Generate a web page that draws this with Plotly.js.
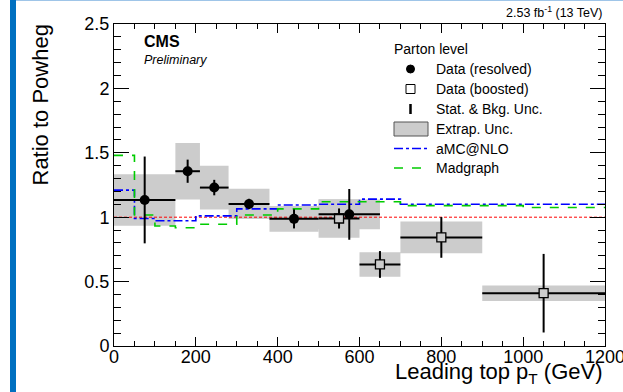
<!DOCTYPE html>
<html><head><meta charset="utf-8">
<script src="https://cdn.plot.ly/plotly-3.0.1.min.js"></script>
<style>
html,body{margin:0;padding:0;background:#fff;}
#wrap{position:relative;width:623px;height:392px;overflow:hidden;background:#fff;}
#chart{position:absolute;left:0;top:0;width:623px;height:392px;}
#bar{position:absolute;left:10px;top:0;width:6px;height:392px;background:#0070c0;z-index:5;}
#topline{position:absolute;left:16px;top:0;width:607px;height:1px;background:#9fc5e8;z-index:5;}
</style></head>
<body><div id="wrap"><div id="chart"></div><div id="bar"></div><div id="topline"></div></div>
<script>
// ---- data ----
const resolvedLo = [0, 150, 210, 280, 380, 500];
const resolvedHi = [150, 210, 280, 380, 500, 650];
const resolvedVal = [1.134, 1.357, 1.23, 1.103, 0.987, 1.022];
const resolvedStat = [0.337, 0.09, 0.06, 0.04, 0.074, 0.197];
const resolvedExtrap = [0.2, 0.22, 0.17, 0.117, 0.1, 0.115];

const boostedLo = [500, 600, 700, 900];
const boostedHi = [600, 700, 900, 1200];
const boostedVal = [0.99, 0.633, 0.843, 0.41];
const boostedStat = [0.078, 0.104, 0.158, 0.305];
const boostedExtrap = [0.15, 0.095, 0.123, 0.06];

const mcEdges = [0, 50, 100, 150, 200, 300, 400, 500, 600, 700, 800, 1000, 1200];
const amcnlo = [1.21, 0.99, 0.973, 0.973, 1.01, 1.065, 1.095, 1.10, 1.14, 1.10, 1.10, 1.10];
const madgraph = [1.48, 1.017, 0.932, 0.918, 0.945, 1.017, 1.065, 1.12, 1.12, 1.09, 1.09, 1.075];

const refX = [0, 1200];
const refY = [1, 1];

const legendTitle = 'Parton level';
const legendLabels = ['Data (resolved)', 'Data (boosted)', 'Stat. & Bkg. Unc.', 'Extrap. Unc.', 'aMC@NLO', 'Madgraph'];

// ---- helpers ----
const FONT = 'Liberation Sans, Arial, Helvetica, sans-serif';
const M = {l: 114, r: 18, t: 24, b: 46};
const W = 623, H = 392;
const PW = W - M.l - M.r, PH = H - M.t - M.b;
const px = p => (p - M.l) / PW;      // pixel x -> paper
const py = p => (H - M.b - p) / PH;  // pixel y -> paper

function centers(lo, hi) { return lo.map((l, i) => (l + hi[i]) / 2); }
function halfw(lo, hi) { return lo.map((l, i) => (hi[i] - l) / 2); }
function boxes(lo, hi, val, unc) {
  const x = [], y = [];
  lo.forEach((l, i) => {
    const h = hi[i], a = val[i] - unc[i], b = val[i] + unc[i];
    x.push(l, h, h, l, l, null);
    y.push(a, a, b, b, a, null);
  });
  return {x, y};
}
function steps(edges, vals) {
  return {x: edges.slice(), y: vals.concat([vals[vals.length - 1]])};
}

const boxR = boxes(resolvedLo, resolvedHi, resolvedVal, resolvedExtrap);
const boxB = boxes(boostedLo, boostedHi, boostedVal, boostedExtrap);
const stA = steps(mcEdges, amcnlo);
const stM = steps(mcEdges, madgraph);

const GRAY = '#cccccc';
const BLUE = '#0000ff';
const GREEN = '#00cc00';
const traces = [
  {x: boxB.x, y: boxB.y, mode: 'lines', fill: 'toself', fillcolor: GRAY,
   line: {width: 0, color: GRAY}, hoverinfo: 'skip', name: legendLabels[3]},
  {x: boxR.x, y: boxR.y, mode: 'lines', fill: 'toself', fillcolor: GRAY,
   line: {width: 0, color: GRAY}, hoverinfo: 'skip', name: legendLabels[3]},
  {x: refX, y: refY, mode: 'lines', line: {color: '#ff0000', width: 1, dash: '3px,2px'},
   hoverinfo: 'skip', name: 'Powheg'},
  {x: stA.x, y: stA.y, mode: 'lines', line: {shape: 'hv', color: BLUE, width: 1.6, dash: 'dashdot'},
   name: legendLabels[4]},
  {x: stM.x, y: stM.y, mode: 'lines', line: {shape: 'hv', color: GREEN, width: 1.6, dash: 'dash'},
   name: legendLabels[5]},
  {x: centers(boostedLo, boostedHi), y: boostedVal, mode: 'markers', name: legendLabels[1],
   marker: {symbol: 'square', size: 9, color: GRAY, line: {color: '#000', width: 1.3}},
   error_y: {type: 'data', array: boostedStat, color: '#000', thickness: 2, width: 0},
   error_x: {type: 'data', array: halfw(boostedLo, boostedHi), color: '#000', thickness: 2, width: 0}},
  {x: centers(resolvedLo, resolvedHi), y: resolvedVal, mode: 'markers', name: legendLabels[0],
   marker: {symbol: 'circle', size: 10, color: '#000'},
   error_y: {type: 'data', array: resolvedStat, color: '#000', thickness: 2, width: 0},
   error_x: {type: 'data', array: halfw(resolvedLo, resolvedHi), color: '#000', thickness: 2, width: 0}}
];

// ---- legend drawn as shapes + annotations ----
const legRows = [69, 89, 109, 129, 148.5, 168];
const symX = 410.5, txtX = 434;
const shapes = [
  {type: 'circle', xref: 'paper', yref: 'paper', x0: px(symX - 4), x1: px(symX + 4), y0: py(legRows[0] + 4), y1: py(legRows[0] - 4),
   fillcolor: '#000', line: {color: '#000', width: 1}},
  {type: 'rect', xref: 'paper', yref: 'paper', x0: px(symX - 4.5), x1: px(symX + 4.5), y0: py(legRows[1] + 4.5), y1: py(legRows[1] - 4.5),
   fillcolor: '#fff', line: {color: '#000', width: 1}},
  {type: 'line', xref: 'paper', yref: 'paper', x0: px(symX), x1: px(symX), y0: py(legRows[2] + 5), y1: py(legRows[2] - 5),
   line: {color: '#000', width: 2.5}},
  {type: 'rect', xref: 'paper', yref: 'paper', x0: px(394), x1: px(428), y0: py(legRows[3] + 7), y1: py(legRows[3] - 7),
   fillcolor: GRAY, line: {color: '#555', width: 1}},
  {type: 'line', xref: 'paper', yref: 'paper', x0: px(394), x1: px(427), y0: py(legRows[4]), y1: py(legRows[4]),
   line: {color: BLUE, width: 1.6, dash: 'dashdot'}},
  {type: 'line', xref: 'paper', yref: 'paper', x0: px(394), x1: px(427), y0: py(legRows[5]), y1: py(legRows[5]),
   line: {color: GREEN, width: 1.6, dash: 'dash'}}
];

const annotations = [
  {text: legendTitle, xref: 'paper', yref: 'paper', x: px(392), y: py(49), xanchor: 'left', yanchor: 'middle',
   showarrow: false, font: {family: FONT, size: 14}},
  ...legendLabels.map((t, i) => ({text: t, xref: 'paper', yref: 'paper', x: px(txtX), y: py(legRows[i]),
   xanchor: 'left', yanchor: 'middle', showarrow: false, font: {family: FONT, size: 14}})),
  {text: '<b>CMS</b>', xref: 'paper', yref: 'paper', x: px(142), y: py(41), xanchor: 'left', yanchor: 'middle',
   showarrow: false, font: {family: FONT, size: 16}},
  {text: '<i>Preliminary</i>', xref: 'paper', yref: 'paper', x: px(142), y: py(60), xanchor: 'left', yanchor: 'middle',
   showarrow: false, font: {family: FONT, size: 12.5}},
  {text: '2.53 fb<sup>-1</sup> (13 TeV)', xref: 'paper', yref: 'paper', x: 1.0, y: py(22), xanchor: 'right', yanchor: 'bottom',
   showarrow: false, font: {family: FONT, size: 12.5}},
  {text: 'Ratio to Powheg', xref: 'paper', yref: 'paper', x: px(40), y: py(23), xanchor: 'center', yanchor: 'top',
   textangle: -90, showarrow: false, font: {family: FONT, size: 22}},
  {text: 'Leading top p<sub>T</sub> (GeV)', xref: 'paper', yref: 'paper', x: 1.0, y: py(373), xanchor: 'right', yanchor: 'middle',
   showarrow: false, font: {family: FONT, size: 22}}
];

const layout = {
  width: W, height: H,
  margin: {l: M.l, r: M.r, t: M.t, b: M.b, pad: 0},
  paper_bgcolor: 'rgba(0,0,0,0)', plot_bgcolor: '#fff',
  font: {family: FONT, color: '#000'},
  showlegend: false,
  xaxis: {range: [0, 1200], showgrid: false, zeroline: false, showline: true, linecolor: '#000', linewidth: 1,
    mirror: 'ticks', ticks: 'inside', tickmode: 'linear', tick0: 0, dtick: 200, ticklen: 9, tickcolor: '#000',
    ticklabelstandoff: -6, ticklabeloverflow: 'allow',
    tickfont: {family: FONT, size: 18, color: '#000'},
    minor: {dtick: 50, ticklen: 5, ticks: 'inside', tickcolor: '#000', showgrid: false}},
  yaxis: {range: [0, 2.5], showgrid: false, zeroline: false, showline: true, linecolor: '#000', linewidth: 1,
    mirror: 'ticks', ticks: 'inside', tickmode: 'linear', tick0: 0, dtick: 0.5, ticklen: 15, tickcolor: '#000',
    ticklabeloverflow: 'allow',
    tickfont: {family: FONT, size: 18, color: '#000'},
    minor: {dtick: 0.1, ticklen: 7, ticks: 'inside', tickcolor: '#000', showgrid: false}},
  shapes: shapes,
  annotations: annotations
};

Plotly.newPlot('chart', traces, layout, {displayModeBar: false, staticPlot: true});
</script>
</body></html>
